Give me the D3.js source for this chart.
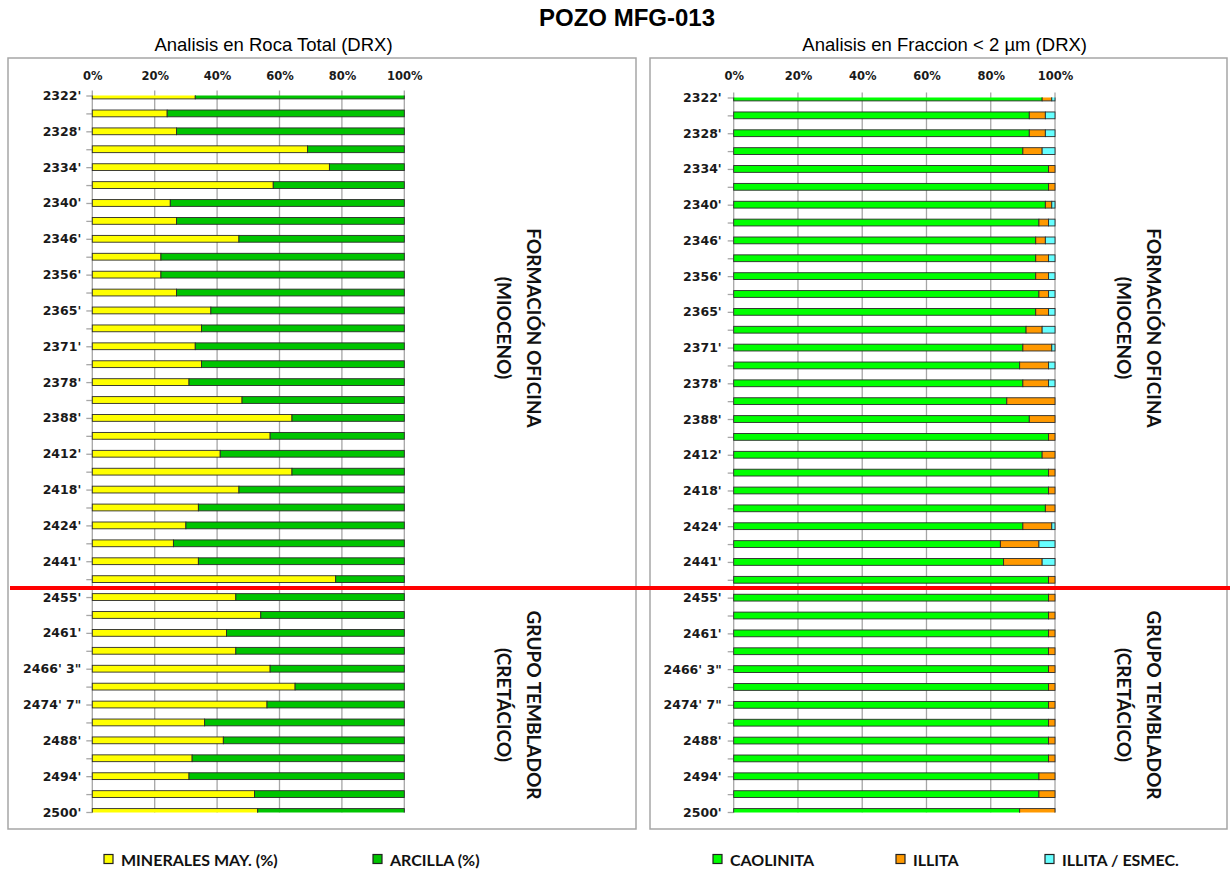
<!DOCTYPE html>
<html>
<head>
<meta charset="utf-8">
<script src="https://cdn.jsdelivr.net/npm/d3@7"></script>
<style>
  html, body { margin: 0; padding: 0; background: #fff; }
  svg { display: block; }
</style>
</head>
<body>
<svg id="chart" width="1230" height="870"></svg>
<script>
// Sample depths (every other sample is labelled on the axis)
const depthLabels = ["2322'", "", "2328'", "", "2334'", "", "2340'", "", "2346'", "",
  "2356'", "", "2365'", "", "2371'", "", "2378'", "", "2388'", "",
  "2412'", "", "2418'", "", "2424'", "", "2441'", "", "2455'", "",
  "2461'", "", "2466' 3\"", "", "2474' 7\"", "", "2488'", "", "2494'", "",
  "2500'"];

// Whole-rock XRD (%)
const mineralesMay = [33, 24, 27, 69, 76, 58, 25, 27, 47, 22,
  22, 27, 38, 35, 33, 35, 31, 48, 64, 57,
  41, 64, 47, 34, 30, 26, 34, 78, 46, 54,
  43, 46, 57, 65, 56, 36, 42, 32, 31, 52,
  53];
const arcilla = [67, 76, 73, 31, 24, 42, 75, 73, 53, 78,
  78, 73, 62, 65, 67, 65, 69, 52, 36, 43,
  59, 36, 53, 66, 70, 74, 66, 22, 54, 46,
  57, 54, 43, 35, 44, 64, 58, 68, 69, 48,
  47];

// Clay fraction < 2 µm XRD (%)
const caolinita = [96, 92, 92, 90, 98, 98, 97, 95, 94, 94,
  94, 95, 94, 91, 90, 89, 90, 85, 92, 98,
  96, 98, 98, 97, 90, 83, 84, 98, 98, 98,
  98, 98, 98, 98, 98, 98, 98, 98, 95, 95,
  89];
const illita = [3, 5, 5, 6, 2, 2, 2, 3, 3, 4,
  4, 3, 4, 5, 9, 9, 8, 15, 8, 2,
  4, 2, 2, 3, 9, 12, 12, 2, 2, 2,
  2, 2, 2, 2, 2, 2, 2, 2, 5, 5,
  11];
const illitaEsmec = [1, 3, 3, 4, 0, 0, 1, 2, 3, 2,
  2, 2, 2, 4, 1, 2, 2, 0, 0, 0,
  0, 0, 0, 0, 1, 5, 4, 0, 0, 0,
  0, 0, 0, 0, 0, 0, 0, 0, 0, 0,
  0];

const pctTicks = [0, 20, 40, 60, 80, 100];

// Index of the last sample in the Oficina formation
const lastOficinaSample = 27;

const chartTitle = "POZO MFG-013";
const leftTitle = "Analisis en Roca Total (DRX)";
const rightTitle = "Analisis en Fraccion < 2 \u00B5m (DRX)";
const oficinaLabel = ["FORMACIÓN OFICINA", "(MIOCENO)"];
const tembladorLabel = ["GRUPO TEMBLADOR", "(CRETÁCICO)"];

const leftSeries = [
  { key: "minerales", name: "MINERALES  MAY. (%)", values: mineralesMay, color: "#ffff00" },
  { key: "arcilla", name: "ARCILLA (%)", values: arcilla, color: "#00c400" }
];
const rightSeries = [
  { key: "caolinita", name: "CAOLINITA", values: caolinita, color: "#00ff00" },
  { key: "illita", name: "ILLITA", values: illita, color: "#ff9900" },
  { key: "illitaEsmec", name: "ILLITA / ESMEC.", values: illitaEsmec, color: "#66ffff" }
];

const svg = d3.select("#chart");
const tickFont = "'DejaVu Sans', Verdana, sans-serif";
const labelFont = "Lato, 'Open Sans', sans-serif";

// Panel frames
svg.append("rect").attr("x", 8).attr("y", 58).attr("width", 628).attr("height", 771)
  .attr("fill", "#fff").attr("stroke", "#a6a6a6").attr("stroke-width", 1.5);
svg.append("rect").attr("x", 650).attr("y", 58).attr("width", 577).attr("height", 771)
  .attr("fill", "#fff").attr("stroke", "#a6a6a6").attr("stroke-width", 1.5);

// Titles
svg.append("text").attr("x", 627).attr("y", 26).attr("text-anchor", "middle")
  .attr("font-family", "'Liberation Sans', Arial, sans-serif").attr("font-weight", "bold")
  .attr("font-size", 24).attr("fill", "#000").text(chartTitle);
svg.append("text").attr("x", 273.5).attr("y", 51).attr("text-anchor", "middle")
  .attr("font-family", "'Liberation Sans', Arial, sans-serif")
  .attr("font-size", 18.5).attr("fill", "#000").text(leftTitle);
svg.append("text").attr("x", 944.7).attr("y", 51).attr("text-anchor", "middle")
  .attr("font-family", "'Liberation Sans', Arial, sans-serif")
  .attr("font-size", 18.5).attr("fill", "#000").text(rightTitle);

function drawPanel(cfg) {
  const g = svg.append("g");
  const x = d3.scaleLinear().domain([0, 100]).range([cfg.x0, cfg.x1]);
  const y = d3.scalePoint().domain(d3.range(depthLabels.length)).range([cfg.yTop, cfg.yBottom]);
  const barH = 6.8;

  // vertical gridlines
  g.append("g").selectAll("line").data(pctTicks).join("line")
    .attr("x1", d => x(d)).attr("x2", d => x(d))
    .attr("y1", cfg.yTop - 5).attr("y2", cfg.yBottom + 0.5)
    .attr("stroke", "#a6a6a6").attr("stroke-width", 1.3);

  // percentage labels along the top
  const xAxis = g.append("g").attr("transform", `translate(0,${cfg.axisY})`)
    .call(d3.axisTop(x).tickValues(pctTicks).tickFormat(d => d + "%").tickSize(0).tickPadding(0));
  xAxis.select(".domain").remove();
  xAxis.selectAll("text").attr("font-family", tickFont).attr("font-weight", "bold")
    .attr("font-size", 11.5).attr("fill", "#1a1a1a");

  // depth axis
  const yAxis = g.append("g").attr("transform", `translate(${cfg.x0},0)`)
    .call(d3.axisLeft(y).tickFormat(i => depthLabels[i]).tickSize(6).tickPadding(cfg.labelPad).tickSizeOuter(0));
  yAxis.select(".domain").remove();
  yAxis.selectAll(".tick line").attr("stroke", "#a6a6a6").attr("stroke-width", 1.3);
  yAxis.selectAll("text").attr("font-family", tickFont).attr("font-weight", "bold")
    .attr("font-size", 12.5).attr("fill", "#1a1a1a");

  // stacked bars
  const rows = depthLabels.map((_, i) => {
    const r = { idx: i };
    cfg.series.forEach(s => { r[s.key] = s.values[i]; });
    return r;
  });
  const stack = d3.stack().keys(cfg.series.map(s => s.key))(rows);
  const clipId = "clip-" + cfg.id;
  svg.append("clipPath").attr("id", clipId).append("rect")
    .attr("x", cfg.x0 - 2).attr("y", cfg.yTop).attr("width", cfg.x1 - cfg.x0 + 4)
    .attr("height", cfg.yBottom - cfg.yTop + 0.5);
  const colorOf = Object.fromEntries(cfg.series.map(s => [s.key, s.color]));
  g.append("g").attr("clip-path", `url(#${clipId})`)
    .selectAll("g").data(stack).join("g").attr("fill", d => colorOf[d.key])
    .selectAll("rect").data(d => d.filter(p => p[1] - p[0] > 0)).join("rect")
    .attr("x", d => x(d[0])).attr("width", d => x(d[1]) - x(d[0]))
    .attr("y", d => y(d.data.idx) - barH / 2).attr("height", barH)
    .attr("stroke", "#2b2b2b").attr("stroke-width", 0.9);

  // formation labels, rotated
  const drawRotated = (lines, cy) => {
    const t = g.append("g").attr("transform", `translate(${cfg.formX},${cy}) rotate(90)`);
    lines.forEach((line, k) => {
      t.append("text").attr("x", 0).attr("y", k === 0 ? -15 : 15)
        .attr("text-anchor", "middle").attr("dominant-baseline", "central")
        .attr("font-family", labelFont).attr("font-weight", "bold")
        .attr("font-size", 19).attr("fill", "#111").text(line);
    });
  };
  drawRotated(oficinaLabel, 328);
  drawRotated(tembladorLabel, 705);

  // legend
  const lg = g.append("g");
  cfg.series.forEach((s, k) => {
    const lx = cfg.legendX[k];
    lg.append("rect").attr("x", lx).attr("y", 854.5).attr("width", 9).attr("height", 9)
      .attr("fill", s.color).attr("stroke", "#222").attr("stroke-width", 1.2);
    lg.append("text").attr("x", lx + 17).attr("y", 859).attr("dominant-baseline", "central")
      .attr("font-family", labelFont).attr("font-weight", "bold").attr("font-size", 16)
      .attr("fill", "#111").text(s.name);
  });

  return y;
}

const yLeft = drawPanel({
  id: "left", series: leftSeries, x0: 92.3, x1: 404.3, yTop: 95.5, yBottom: 812,
  axisY: 80, labelPad: 5, formX: 519, legendX: [104, 373]
});
drawPanel({
  id: "right", series: rightSeries, x0: 733.7, x1: 1055, yTop: 97.5, yBottom: 812,
  axisY: 80, labelPad: 6, formX: 1139, legendX: [713, 896, 1045]
});

// Boundary between the Oficina formation and the Temblador group
const boundaryY = (yLeft(lastOficinaSample) + yLeft(lastOficinaSample + 1)) / 2;
svg.append("line").attr("x1", 10).attr("x2", 1230).attr("y1", boundaryY).attr("y2", boundaryY)
  .attr("stroke", "#ff0000").attr("stroke-width", 4);
</script>
</body>
</html>
